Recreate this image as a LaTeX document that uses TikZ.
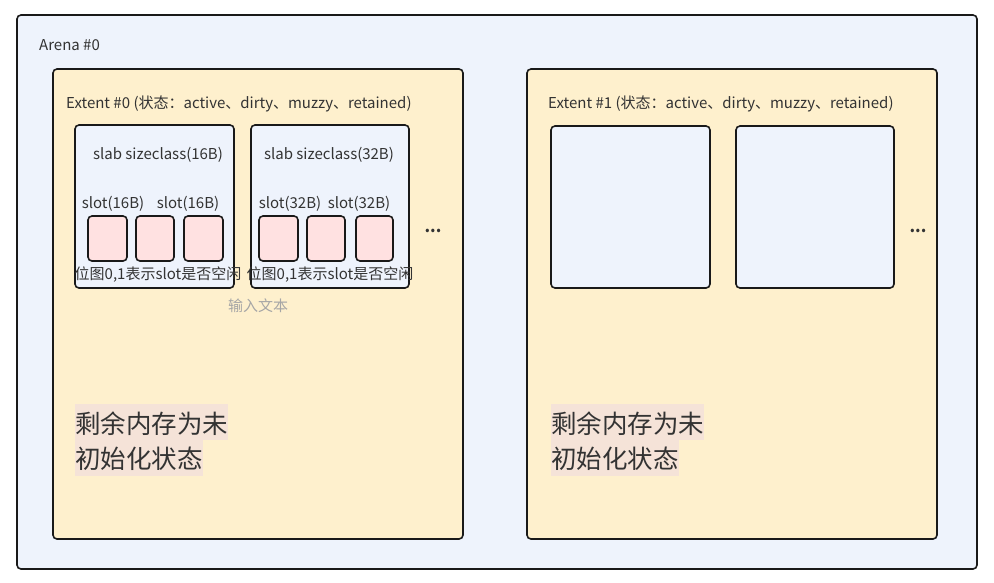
\documentclass[tikz,border=0pt]{standalone}
\usepackage{fontspec}
\setmainfont{Noto Sans CJK SC}
\begin{document}
\begin{tikzpicture}[x=1pt,y=-1pt,
  box/.style={draw=black!90,line width=1.6pt,rounded corners=4pt},
  arena/.style={box,fill=arenabg},
  extent/.style={box,fill=extentbg},
  slab/.style={box,fill=arenabg},
  slotbox/.style={box,fill=slotbg},
  lbl/.style={inner sep=0pt,text=txt,font=\fontsize{15}{17}\selectfont},
  dots/.style={inner sep=0pt,text=txt,font=\bfseries\fontsize{16}{16}\selectfont},
  big/.style={inner sep=0pt,fill=hl,text=txt,font=\fontsize{25.5}{30}\selectfont,anchor=north west,minimum height=36pt,text depth=0pt}
]
\definecolor{arenabg}{HTML}{EEF3FC}
\definecolor{extentbg}{HTML}{FEF0CD}
\definecolor{slotbg}{HTML}{FFE1E1}
\definecolor{hl}{HTML}{F5E3D8}
\definecolor{txt}{HTML}{333333}
\useasboundingbox (0,0) rectangle (994,582);
\draw[arena] (17,15) rectangle (977,569);
\node[lbl,anchor=west] (arena) at (39,45) {Arena \#0};

\draw[extent] (53,69) rectangle (463,539);
\draw[extent] (527,69) rectangle (937,539);
\node[lbl,anchor=west] (e0) at (66,104) {Extent \#0 (状态：active、dirty、muzzy、retained)};
\node[lbl,anchor=west] (e1) at (548,104) {Extent \#1 (状态：active、dirty、muzzy、retained)};

% slab 1
\draw[slab] (75,125) rectangle (234,288);
\node[lbl] (s1) at (158,155) {slab sizeclass(16B)};
\node[lbl] (s1a) at (113,204) {slot(16B)};
\node[lbl] (s1b) at (188,204) {slot(16B)};
\draw[slotbox] (88,216) rectangle (127,261);
\draw[slotbox] (136,216) rectangle (174,261);
\draw[slotbox] (184,216) rectangle (223,261);
\node[lbl] (b1) at (158,275) {位图0,1表示slot是否空闲};

% slab 2
\draw[slab] (251,125) rectangle (409,288);
\node[lbl] (s2) at (329,155) {slab sizeclass(32B)};
\node[lbl] (s2a) at (290,204) {slot(32B)};
\node[lbl] (s2b) at (359,204) {slot(32B)};
\draw[slotbox] (259,216) rectangle (298,261);
\draw[slotbox] (307,216) rectangle (345,261);
\draw[slotbox] (356,216) rectangle (393,261);
\node[lbl] (b2) at (330,275) {位图0,1表示slot是否空闲};

\node[lbl,text=black!35] (inp) at (258,306) {输入文本};
\node[dots] (d0) at (433,231) {...};

% extent 1 slabs
\draw[slab] (551,126) rectangle (710,288);
\draw[slab] (736,126) rectangle (894,288);
\node[dots] (d1) at (918,231) {...};

% remaining memory text
\node[big] (r0a) at (75,404) {剩余内存为未};
\node[big] (r0b) at (75,440) {初始化状态};
\node[big] (r1a) at (551,404) {剩余内存为未};
\node[big] (r1b) at (551,440) {初始化状态};
\end{tikzpicture}
\end{document}
